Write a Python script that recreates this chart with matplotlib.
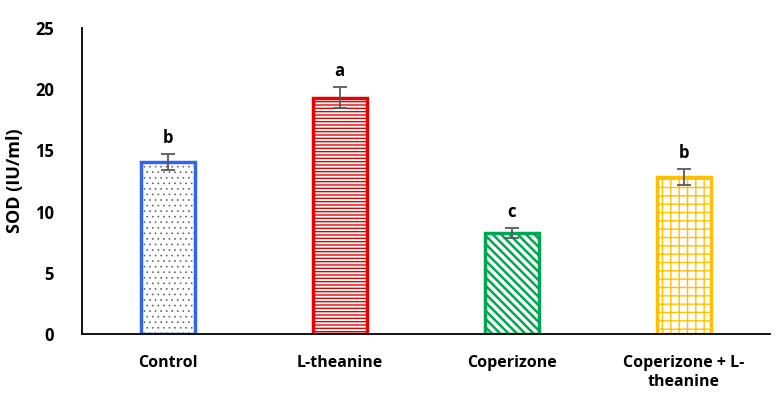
import matplotlib.pyplot as plt

groups = ['Control', 'L-theanine', 'Coperizone', 'Coperizone + L-\ntheanine']
sod = [14.05, 19.3, 8.25, 12.8]
err = [0.65, 0.85, 0.4, 0.65]
letters = ['b', 'a', 'c', 'b']

edge_colors = ['#3366e6', '#e60000', '#00a651', '#ffc000']
hatch_colors = ['#666666', '#e60000', '#00a651', '#ffc000']
hatches = ['...', '-----', '\\\\\\\\', '++']
hatch_widths = [0.5, 1.0, 1.8, 1.0]

plt.rcParams['font.family'] = ['Open Sans', 'DejaVu Sans']

fig = plt.figure(figsize=(7.79, 3.96), dpi=100)
ax = fig.add_axes([0.105, 0.157, 0.883, 0.772])

x = range(len(groups))
for i in x:
    # hatch layer, then outline on top
    b = ax.bar(i, sod[i], width=0.315, color='white', edgecolor=hatch_colors[i],
               hatch=hatches[i], linewidth=0)
    try:
        b[0].set_hatch_linewidth(hatch_widths[i])
    except AttributeError:
        pass
    ax.bar(i, sod[i], width=0.315, color='none', edgecolor=edge_colors[i],
           linewidth=2.5)
ax.errorbar(list(x), sod, yerr=err, fmt='none', ecolor='#595959',
            elinewidth=1.3, capsize=5, capthick=1.3)

for i in x:
    ax.text(i, sod[i] + err[i] + 0.6, letters[i], ha='center', va='bottom',
            fontsize=12, fontweight='bold')

ax.set_xlim(-0.5, 3.5)
ax.set_ylim(0, 25)
ax.set_yticks([0, 5, 10, 15, 20, 25])
ax.set_xticks(list(x))
ax.set_xticklabels(groups, fontsize=11.5, fontweight='bold', linespacing=1.3)
for lab in ax.get_yticklabels():
    lab.set_fontsize(12)
    lab.set_fontweight('bold')
ax.tick_params(axis='y', length=0, pad=20)
ax.tick_params(axis='x', length=0, pad=15)
ax.set_ylabel('SOD (IU/ml)', fontsize=13, fontweight='bold', labelpad=8)
ax.spines['top'].set_visible(False)
ax.spines['right'].set_visible(False)
ax.spines['left'].set_linewidth(1.3)
ax.spines['bottom'].set_linewidth(1.3)

plt.savefig('out.png', dpi=100)
